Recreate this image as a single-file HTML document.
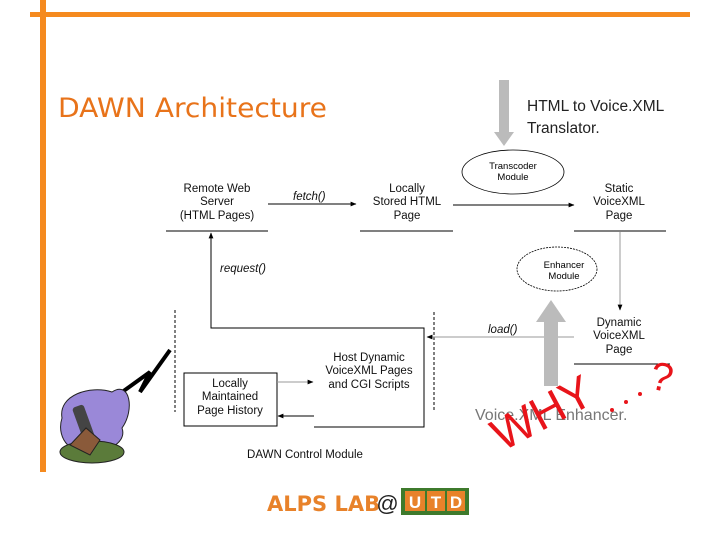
<!DOCTYPE html>
<html><head><meta charset="utf-8"><style>
html,body{margin:0;padding:0;background:#fff;}
svg{display:block;}
</style></head><body>
<svg width="720" height="540" viewBox="0 0 720 540" xmlns="http://www.w3.org/2000/svg" font-family="Liberation Sans, sans-serif">
<defs>
<marker id="a" viewBox="0 0 10 10" refX="9" refY="5" markerWidth="6" markerHeight="6" orient="auto"><path d="M0,1 L10,5 L0,9 z" fill="#000"/></marker>
</defs>
<rect x="30" y="12" width="660" height="5" fill="#F58A1F"/>
<rect x="40" y="0" width="6" height="472" fill="#F58A1F"/>
<text x="58" y="117" font-size="27" fill="#E8731A" font-family="DejaVu Sans, sans-serif" textLength="269" lengthAdjust="spacingAndGlyphs">DAWN Architecture</text>
<text x="527" y="111" font-size="15.5" fill="#222">HTML to Voice.XML</text>
<text x="527" y="133" font-size="15.5" fill="#222">Translator.</text>
<path d="M499,80 H509 V132 H514 L504,146 L494,132 H499 Z" fill="#bbb"/>
<ellipse cx="513" cy="172" rx="51" ry="22" fill="none" stroke="#000" stroke-width="0.8"/>
<text x="513" y="169" font-size="9.5" text-anchor="middle">Transcoder</text>
<text x="513" y="180" font-size="9.5" text-anchor="middle">Module</text>
<ellipse cx="557" cy="269" rx="40" ry="22" fill="none" stroke="#000" stroke-width="0.8" stroke-dasharray="2,1"/>
<text x="564" y="268" font-size="9.5" text-anchor="middle">Enhancer</text>
<text x="564" y="279" font-size="9.5" text-anchor="middle">Module</text>
<g font-size="11.5" text-anchor="middle" fill="#111">
<text x="217" y="192">Remote Web</text><text x="217" y="205">Server</text><text x="217" y="219">(HTML Pages)</text>
<text x="407" y="192">Locally</text><text x="407" y="205">Stored HTML</text><text x="407" y="219">Page</text>
<text x="619" y="192">Static</text><text x="619" y="205">VoiceXML</text><text x="619" y="219">Page</text>
<text x="619" y="326">Dynamic</text><text x="619" y="339">VoiceXML</text><text x="619" y="353">Page</text>
<text x="369" y="361">Host Dynamic</text><text x="369" y="374">VoiceXML Pages</text><text x="369" y="388">and CGI Scripts</text>
<text x="230" y="387">Locally</text><text x="230" y="400">Maintained</text><text x="230" y="414">Page History</text>
<text x="305" y="458">DAWN Control Module</text>
</g>
<g font-size="11.5" font-style="italic" fill="#111">
<text x="293" y="200">fetch()</text>
<text x="220" y="272">request()</text>
<text x="488" y="333">load()</text>
</g>
<g stroke="#000" stroke-width="1" fill="none">
<line x1="166" y1="231" x2="268" y2="231"/>
<line x1="360" y1="231" x2="453" y2="231"/>
<line x1="574" y1="231" x2="666" y2="231"/>
<line x1="574" y1="364" x2="670" y2="364"/>
<line x1="268" y1="204" x2="356" y2="204" marker-end="url(#a)"/>
<line x1="453" y1="205" x2="574" y2="205" marker-end="url(#a)"/>
<polyline points="314,328 211,328 211,233" marker-end="url(#a)"/>
<polyline points="314,328 424,328 424,427 314,427"/>
<rect x="184" y="373" width="93" height="53"/>
<line x1="314" y1="416" x2="278" y2="416" marker-end="url(#a)"/>
<line x1="175" y1="310" x2="175" y2="412" stroke-dasharray="3,2"/>
<line x1="434" y1="312" x2="434" y2="412" stroke-dasharray="3,2"/>
</g>
<g stroke="#999" stroke-width="1" fill="none">
<line x1="620" y1="232" x2="620" y2="310" marker-end="url(#a)"/>
<line x1="574" y1="337" x2="427" y2="337" marker-end="url(#a)"/>
<line x1="277" y1="382" x2="313" y2="382" marker-end="url(#a)"/>
</g>
<path d="M544,386 H558 V322 H566 L551,300 L536,322 H544 Z" fill="#bbb"/>
<text x="475" y="420" font-size="16" fill="#777">Voice.XML Enhancer.</text>
<g fill="#e8141a" font-family="Liberation Sans, sans-serif">
<text x="502" y="452" font-size="46" transform="rotate(-28 502 452)">WHY</text>
<circle cx="612" cy="410" r="2"/><circle cx="626" cy="402" r="2"/><circle cx="640" cy="394" r="2"/>
<text x="648" y="388" font-size="40" transform="rotate(12 648 388)">?</text>
</g>
<polyline points="118,395 150,372 140,392 170,350" fill="none" stroke="#000" stroke-width="4"/>
<path d="M62,418 C58,395 90,385 112,392 C130,380 135,410 122,428 C128,445 100,455 90,448 C75,458 55,440 62,418 Z" fill="#9a88d8" stroke="#222"/>
<ellipse cx="92" cy="452" rx="32" ry="11" fill="#5b7b3a" stroke="#222"/>
<rect x="78" y="405" width="12" height="38" rx="3" fill="#444" transform="rotate(-20 84 424)"/>
<path d="M70,445 L86,428 L100,440 L90,455 Z" fill="#8a5a3a" stroke="#222"/>
<text x="267" y="511" font-size="21" font-weight="bold" fill="#E8822A" font-family="DejaVu Sans, sans-serif">ALPS LAB</text>
<text x="376" y="511" font-size="22" font-style="italic" fill="#222">@</text>
<rect x="401" y="488" width="68" height="27" fill="#3e7a2c"/>
<rect x="405" y="491" width="20" height="20" fill="#e8822a"/><rect x="427" y="491" width="18" height="20" fill="#e8822a"/><rect x="447" y="491" width="18" height="20" fill="#e8822a"/>
<g font-size="17" font-weight="bold" fill="#fff" text-anchor="middle"><text x="415" y="508">U</text><text x="436" y="508">T</text><text x="456" y="508">D</text></g>
</svg>
</body></html>
